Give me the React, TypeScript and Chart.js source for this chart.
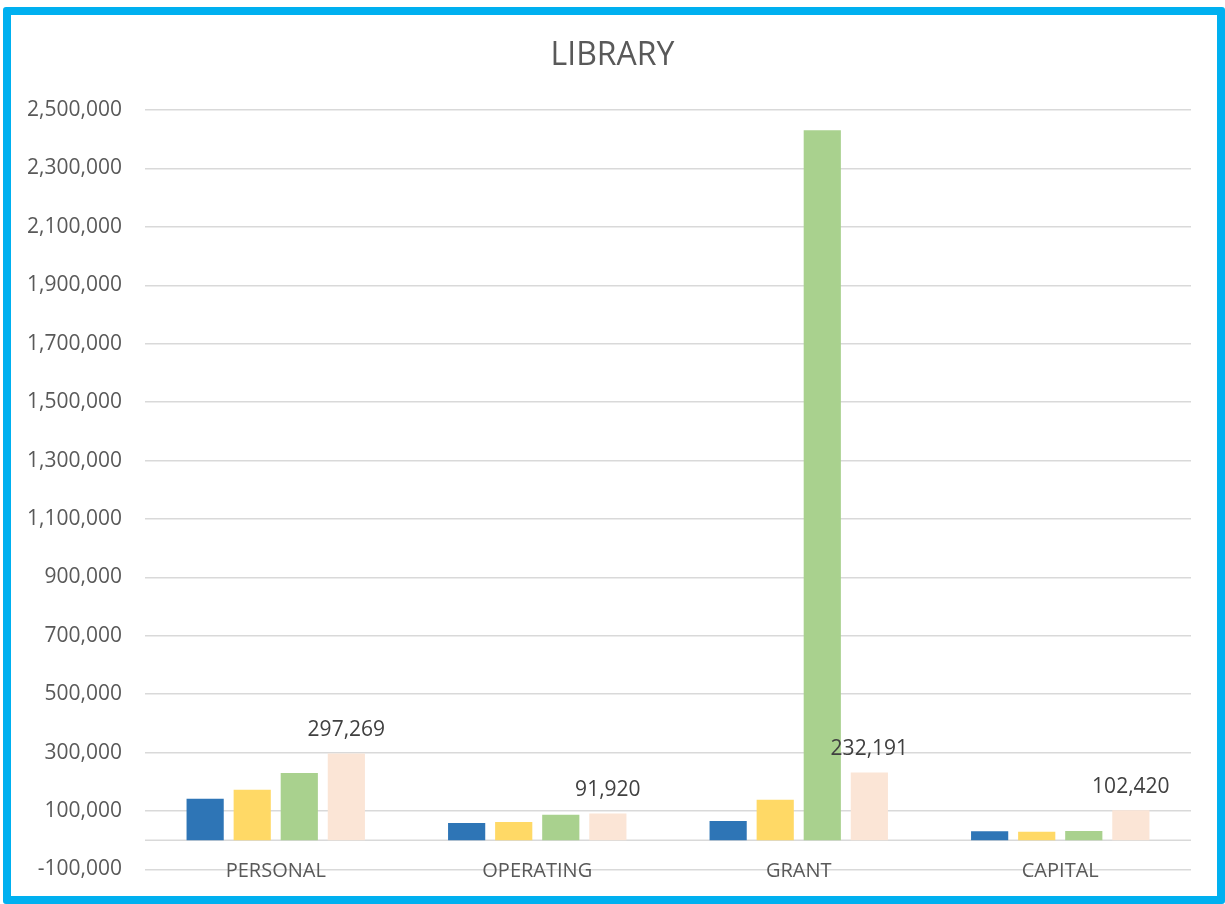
import React, { useEffect, useRef } from "react";
import { Chart, registerables } from "chart.js";

Chart.register(...registerables);

// Library budget by category, four series per group
const categories = ["PERSONAL", "OPERATING", "GRANT", "CAPITAL"];
const series1 = [142000, 59000, 66000, 31000];
const series2 = [173000, 63000, 139000, 29000];
const series3 = [230000, 87000, 2431000, 32000];
const series4 = [297269, 91920, 232191, 102420];
const seriesColors = ["#2E75B6", "#FFD966", "#A9D18E", "#FBE5D6"];

const yMin = -100000;
const yMax = 2500000;
const yStep = 200000;

const FONT = "'Open Sans', 'DejaVu Sans', sans-serif";
const fmt = (v: number) => v.toLocaleString("en-US");

// Horizontal category axis line at zero, drawn under the bars
const zeroLinePlugin = {
  id: "zeroLine",
  beforeDatasetsDraw(chart: any) {
    const { ctx, chartArea, scales } = chart;
    const y = scales.y.getPixelForValue(0);
    ctx.save();
    ctx.strokeStyle = "#D9D9D9";
    ctx.lineWidth = 1.5;
    ctx.beginPath();
    ctx.moveTo(chartArea.left, y);
    ctx.lineTo(chartArea.right, y);
    ctx.stroke();
    ctx.restore();
  },
};

// Category names sit just under the zero line; values over the last series
const labelsPlugin = {
  id: "labels",
  afterDatasetsDraw(chart: any) {
    const { ctx, scales } = chart;
    const y0 = scales.y.getPixelForValue(0);
    ctx.save();
    ctx.font = `20px ${FONT}`;
    ctx.fillStyle = "#595959";
    ctx.textAlign = "center";
    ctx.textBaseline = "middle";
    categories.forEach((c, i) => {
      ctx.fillText(c, scales.x.getPixelForValue(i), y0 + 31);
    });
    const meta = chart.getDatasetMeta(3);
    ctx.font = `21px ${FONT}`;
    ctx.fillStyle = "#404040";
    ctx.textBaseline = "alphabetic";
    meta.data.forEach((bar: any, i: number) => {
      ctx.fillText(fmt(series4[i]), bar.x, bar.y - 17);
    });
    ctx.restore();
  },
};

export default function App() {
  const ref = useRef<HTMLCanvasElement | null>(null);

  useEffect(() => {
    if (!ref.current) return;
    const all = [series1, series2, series3, series4];
    const chart = new Chart(ref.current, {
      type: "bar",
      data: {
        labels: categories,
        datasets: all.map((d, i) => ({
          label: `Series ${i + 1}`,
          data: d,
          backgroundColor: seriesColors[i],
          borderWidth: 0,
          categoryPercentage: 0.72,
          barPercentage: 0.79,
        })),
      },
      options: {
        animation: false,
        responsive: false,
        maintainAspectRatio: false,
        layout: { padding: { top: 37, right: 0, bottom: 34.5, left: 0 } },
        plugins: {
          legend: { display: false },
          tooltip: { enabled: false },
          title: {
            display: true,
            text: "LIBRARY",
            color: "#595959",
            font: { family: FONT, size: 32, weight: "normal" },
            padding: { top: 0, bottom: 34.6 },
          },
        },
        scales: {
          x: {
            display: false,
            grid: { display: false },
          },
          y: {
            min: yMin,
            max: yMax,
            border: { display: false },
            grid: { color: "#D9D9D9", lineWidth: 1.5, drawTicks: false },
            ticks: {
              stepSize: yStep,
              padding: 23,
              color: "#595959",
              font: { family: FONT, size: 21 },
              callback: (v: any) => fmt(Number(v)),
            },
            afterFit(scale: any) {
              scale.width = 145;
              scale.paddingTop = 0;
              scale.paddingBottom = 0;
            },
          },
          // empty right-hand margin so the title centres on the full width
          yRight: {
            position: "right",
            min: yMin,
            max: yMax,
            border: { display: false },
            grid: { display: false },
            ticks: { display: false },
            afterFit(scale: any) {
              scale.width = 34;
              scale.paddingTop = 0;
              scale.paddingBottom = 0;
            },
          },
        },
      },
      plugins: [zeroLinePlugin, labelsPlugin],
    });
    return () => chart.destroy();
  }, []);

  return (
    <div style={{ position: "fixed", left: 0, top: 0, width: 1225, height: 904, background: "#fff" }}>
      <canvas ref={ref} width={1225} height={904} style={{ position: "absolute", left: 0, top: 0 }} />
      <div
        style={{
          position: "absolute",
          left: 3,
          top: 7,
          width: 1222,
          height: 897,
          boxSizing: "border-box",
          border: "8px solid #00B0F0",
          borderRadius: 3,
          pointerEvents: "none",
        }}
      />
    </div>
  );
}
